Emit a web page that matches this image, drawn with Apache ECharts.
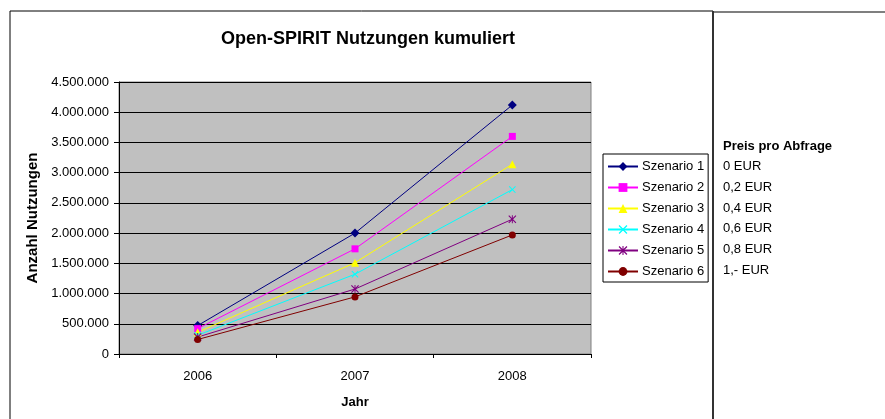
<!DOCTYPE html>
<html>
<head>
<meta charset="utf-8">
<script src="https://cdn.jsdelivr.net/npm/echarts@6/dist/echarts.min.js"></script>
<style>
  html, body { margin: 0; padding: 0; background: #fff; }
  #chart { width: 885px; height: 419px; }
</style>
</head>
<body>
<div id="chart"></div>
<script>
// Jahre und kumulierte Nutzungen je Szenario
const years = ['2006', '2007', '2008'];
const szenario1 = [470000, 2000000, 4120000];
const szenario2 = [420000, 1740000, 3600000];
const szenario3 = [360000, 1510000, 3140000];
const szenario4 = [310000, 1320000, 2720000];
const szenario5 = [280000, 1075000, 2230000];
const szenario6 = [240000, 945000, 1970000];
const preise = ['0 EUR', '0,2 EUR', '0,4 EUR', '0,6 EUR', '0,8 EUR', '1,- EUR'];

const FONT = '"Liberation Sans", Arial, sans-serif';
const X_SYMBOL = 'path://M0,1L1,0L5,4L9,0L10,1L6,5L10,9L9,10L5,6L1,10L0,9L4,5Z';
const STAR_SYMBOL = 'path://M0,1L1,0L5,4L9,0L10,1L6,5L10,9L9,10L5,6L1,10L0,9L4,5Z M4.4,0L5.6,0L5.6,4.4L5.6,5.6L5.6,10L4.4,10Z';

const fmt = v => String(v).replace(/\B(?=(\d{3})+(?!\d))/g, '.');

const seriesDefs = [
  {name: 'Szenario 1', data: szenario1, color: '#000080', symbol: 'diamond', size: 9},
  {name: 'Szenario 2', data: szenario2, color: '#FF00FF', symbol: 'rect', size: 7},
  {name: 'Szenario 3', data: szenario3, color: '#FFFF00', symbol: 'triangle', size: 8},
  {name: 'Szenario 4', data: szenario4, color: '#00FFFF', symbol: X_SYMBOL, size: 7},
  {name: 'Szenario 5', data: szenario5, color: '#800080', symbol: STAR_SYMBOL, size: 8},
  {name: 'Szenario 6', data: szenario6, color: '#800000', symbol: 'circle', size: 7},
];

const graphics = [
  {type: 'line', shape: {x1: 10, y1: 11, x2: 713, y2: 11}, style: {stroke: '#000', lineWidth: 1}},
  {type: 'line', shape: {x1: 10, y1: 11, x2: 10, y2: 419}, style: {stroke: '#000', lineWidth: 1}},
  {type: 'line', shape: {x1: 713, y1: 12, x2: 885, y2: 12}, style: {stroke: '#555', lineWidth: 1.5}},
  {type: 'line', shape: {x1: 713, y1: 11, x2: 713, y2: 419}, style: {stroke: '#333', lineWidth: 2}},
  {type: 'text', left: 723, top: 140, style: {text: 'Preis pro Abfrage', font: 'bold 13px ' + FONT, fill: '#000'}},
];
preise.forEach((p, i) => {
  graphics.push({type: 'text', left: 723, top: 160 + i * 20.8,
    style: {text: p, font: '13px ' + FONT, fill: '#000'}});
});

const chart = echarts.init(document.getElementById('chart'));
chart.setOption({
  animation: false,
  textStyle: {fontFamily: FONT},
  title: {
    text: 'Open-SPIRIT Nutzungen kumuliert',
    left: 363, top: 25, textAlign: 'center',
    textStyle: {fontSize: 18, fontWeight: 'bold', color: '#000', fontFamily: FONT}
  },
  grid: {
    left: 119, top: 82, right: 294, bottom: 65,
    show: true, backgroundColor: '#C0C0C0', borderColor: '#808080', borderWidth: 1
  },
  legend: {
    orient: 'vertical', left: 603, top: 154,
    itemWidth: 30, itemHeight: 11, itemGap: 8, padding: [6, 4, 4, 4],
    borderColor: '#000', borderWidth: 1, borderRadius: 0,
    textStyle: {fontSize: 13, color: '#000', fontFamily: FONT, padding: [0, 0, 0, -1]},
    data: seriesDefs.map(s => s.name)
  },
  xAxis: {
    type: 'category', data: years, boundaryGap: true,
    name: 'Jahr', nameLocation: 'middle', nameGap: 42,
    nameTextStyle: {fontSize: 13, fontWeight: 'bold', color: '#000', fontFamily: FONT},
    axisLine: {lineStyle: {color: '#000', width: 1}},
    axisTick: {show: true, length: 4, lineStyle: {color: '#000'}},
    axisLabel: {fontSize: 13, color: '#000', margin: 16, fontFamily: FONT},
    splitLine: {show: false}
  },
  yAxis: {
    type: 'value', min: 0, max: 4500000, interval: 500000,
    name: 'Anzahl Nutzungen', nameLocation: 'middle', nameGap: 77, nameRotate: 90,
    nameTextStyle: {fontSize: 15, fontWeight: 'bold', color: '#000', fontFamily: FONT},
    axisLine: {show: true, lineStyle: {color: '#000', width: 1}},
    axisTick: {show: true, length: 5, lineStyle: {color: '#000'}},
    axisLabel: {fontSize: 13, color: '#000', margin: 10, formatter: fmt, fontFamily: FONT},
    splitLine: {show: true, lineStyle: {color: '#000', width: 1}}
  },
  series: seriesDefs.map(s => ({
    name: s.name, type: 'line', data: s.data,
    symbol: s.symbol, symbolSize: s.size, showSymbol: true,
    lineStyle: {color: s.color, width: 1},
    itemStyle: {color: s.color, borderWidth: 0},
    emphasis: {disabled: true}
  })),
  graphic: graphics
});
</script>
</body>
</html>
